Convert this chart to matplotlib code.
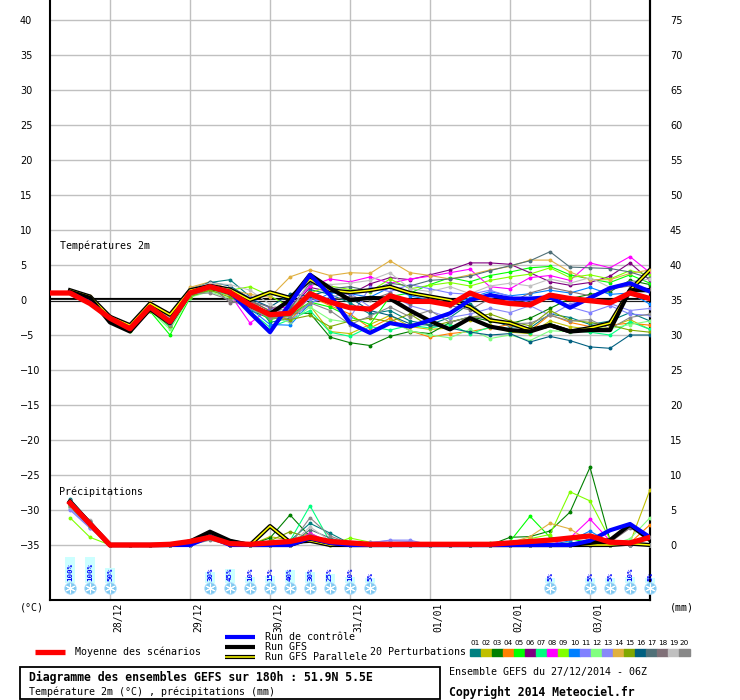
import numpy as np
import matplotlib.pyplot as plt
from matplotlib.transforms import offset_copy
from matplotlib.patches import Rectangle

nan = np.nan

# time axis: 27/12/2014 06Z + 0..180h every 6h
hours = np.arange(0, 181, 6)
day_hours = [18, 42, 66, 90, 114, 138, 162]
day_labels = ['28/12', '29/12', '30/12', '31/12', '01/01', '02/01', '03/01']

# temperature 2m (°C)
t_mean = [1.0, 1.0, -0.5, -2.6, -4.1, -1.0, -3.1, 1.0, 1.9, 1.1, -0.7, -2.1, -1.9, 0.9, -0.3, -1.1,
          -1.3, 0.6, -0.2, -0.2, -0.7, 1.0, -0.1, -0.5, -0.7, 0.7, 0.2, -0.1, -0.4, 1.0, 0.2]
t_control = [nan, 1.0, -0.4, -2.6, -4.1, -1.0, -3.2, 1.0, 1.9, 1.2, -1.8, -4.6, -0.5, 3.6, 0.7, -3.3,
             -4.7, -3.3, -3.8, -2.9, -1.9, 0.0, 0.7, 0.2, 0.2, 0.4, -1.1, 0.3, 1.7, 2.4, 1.2]
t_gfs = [nan, 1.2, 0.3, -3.2, -4.5, -1.3, -3.3, 1.0, 2.0, 1.0, -0.8, -2.0, 0.0, 3.6, 1.7, 0.0,
         0.3, 0.2, -1.5, -3.0, -4.2, -2.6, -3.8, -4.3, -4.5, -3.6, -4.5, -4.3, -4.3, 1.4, 1.4]
t_gfs_para = [nan, 1.4, 0.5, -2.4, -3.6, -0.5, -2.1, 1.4, 2.0, 1.5, 0.0, 1.1, 0.3, 2.9, 1.4, 1.1,
              1.4, 1.9, 1.0, 0.5, 0.0, -1.0, -2.9, -3.3, -4.3, -3.6, -4.5, -4.0, -3.3, 1.4, 4.3]

t01 = [nan, 1.3, 0.5, -2.4, -3.8, -0.6, -2.6, 1.6, 2.5, 2.9, 0.5, -3.2, -2.6, 1.5, 0.8, -0.4,
       -2.0, -1.5, -3.0, -3.5, -2.5, -0.5, -2.8, -3.8, -4.0, -2.0, -2.5, -3.5, -3.0, -1.8, -3.0]
t02 = [nan, 1.2, 0.2, -2.7, -4.0, -1.2, -3.5, 0.8, 1.6, 0.6, -0.8, -1.8, -2.4, -0.8, -4.5, -4.8,
       -3.5, -2.2, -3.8, -4.2, -4.0, -2.8, -3.6, -4.6, -4.8, -3.0, -3.8, -4.2, -3.9, -2.8, -4.2]
t03 = [nan, 1.1, 0.0, -2.9, -4.2, -1.4, -3.8, 0.6, 1.4, 1.2, -1.5, -2.6, -1.9, -1.9, -5.3, -6.1,
       -6.5, -5.2, -4.5, -4.8, -3.2, -2.4, -3.0, -3.4, -2.6, -1.2, 0.2, 0.8, 1.2, 2.8, 2.2]
t04 = [nan, 1.2, 0.3, -2.5, -3.9, -0.8, -2.8, 1.5, 2.4, 1.0, -0.2, -1.5, -3.0, 0.5, -0.8, -2.0,
       -4.0, -2.6, -4.4, -5.3, -4.8, -4.5, -4.0, -3.5, -4.4, -2.1, -3.2, -3.8, -3.6, -3.3, -3.6]
t05 = [nan, 1.1, -0.3, -3.0, -4.4, -1.6, -5.0, 0.3, 1.9, 1.7, -1.0, -2.8, -2.2, -0.3, -1.0, -2.4,
       -3.5, 0.5, 1.0, 2.2, 3.2, 2.6, 3.5, 4.0, 4.6, 4.8, 3.6, 3.0, 2.5, 3.6, 2.4]
t06 = [nan, 1.2, 0.4, -2.6, -4.0, -1.0, -3.2, 1.2, 2.0, 1.0, -0.3, -2.0, -1.4, 1.8, 1.2, 0.8,
       2.3, 3.2, 2.9, 3.6, 4.3, 5.3, 5.3, 5.1, 3.9, 2.6, 2.1, 2.5, 3.4, 5.3, 2.8]
t07 = [nan, 1.0, -0.4, -2.8, -4.2, -1.3, -3.9, 0.5, 1.3, 0.8, -1.6, -3.9, -2.8, -1.5, -4.6, -5.2,
       -3.8, -4.3, -3.6, -4.0, -3.5, -4.8, -3.9, -4.4, -4.7, -3.4, -4.4, -4.6, -5.0, -3.1, -4.2]
t08 = [nan, 1.3, 0.3, -2.5, -3.9, -0.9, -3.0, 1.4, 2.2, 0.8, -3.3, -1.2, -1.0, 2.0, 3.0, 2.6,
       3.3, 2.4, 3.0, 3.4, 3.9, 4.4, 1.9, 1.6, 3.2, 3.5, 2.8, 5.3, 4.6, 6.2, 3.9]
t09 = [nan, 1.2, 0.1, -2.6, -4.0, -1.1, -3.3, 1.0, 1.8, 1.4, 1.9, 0.6, -1.0, 1.0, 2.0, 1.5,
       1.2, 3.0, 1.6, 2.1, 2.5, 2.0, 2.8, 3.3, 3.7, 4.6, 3.2, 3.6, 3.0, 4.2, 3.6]
t10 = [nan, 1.1, 0.0, -2.7, -4.1, -1.2, -3.4, 0.9, 1.7, 0.9, -1.2, -3.5, -3.6, -0.5, 1.0, 0.9,
       0.4, 1.8, 0.6, 0.0, -0.7, 0.3, 1.2, 0.6, 0.9, 1.4, 1.0, 1.8, 0.8, 1.0, -0.6]
t11 = [nan, 1.2, 0.2, -2.4, -3.7, -0.5, -2.7, 1.3, 2.3, 1.6, 0.4, -1.2, -2.0, 0.2, -0.2, -2.5,
       1.8, 1.2, 2.2, 1.6, 1.0, 0.8, 1.4, 0.5, -0.4, 0.8, -1.0, -1.8, -0.8, -2.0, -2.2]
t12 = [nan, 1.0, -0.2, -2.8, -4.3, -1.5, -4.2, 0.4, 1.2, 0.2, -0.5, -2.4, -3.2, -1.0, -2.8, -3.2,
       -4.6, -3.0, -4.4, -5.0, -5.4, -4.2, -5.5, -5.0, -5.8, -4.4, -4.5, -3.9, -4.1, -3.5, -3.0]
t13 = [nan, 1.1, 0.1, -2.5, -3.9, -0.7, -2.9, 1.1, 2.1, 1.3, -0.6, -2.2, -3.0, -0.4, 0.4, 1.0,
       -1.0, 0.9, -0.8, -1.6, -2.5, -2.0, -1.2, -1.8, -0.8, -2.2, -0.6, 0.4, -0.5, -1.5, -1.2]
t14 = [nan, 1.3, 0.6, -2.3, -3.6, -0.3, -2.5, 1.8, 2.6, 1.5, 0.8, 0.4, 3.3, 4.3, 3.5, 3.9,
       3.8, 5.6, 3.9, 3.5, 3.0, 3.6, 4.3, 4.8, 5.7, 5.7, 4.0, 2.9, 2.9, 3.8, 4.3]
t15 = [nan, 1.1, -0.1, -2.9, -4.3, -1.5, -3.7, 0.5, 1.4, 0.4, -0.9, -2.5, -2.8, -2.2, -3.8, -3.0,
       -2.6, -3.1, -2.0, -3.8, -3.1, -2.5, -2.0, -3.0, -3.7, -1.5, -2.9, -3.2, -3.6, -4.3, -4.6]
t16 = [nan, 1.2, 0.3, -2.6, -4.0, -1.0, -3.1, 1.2, 2.6, 2.0, 0.2, -1.0, 0.8, 0.6, 1.4, 0.3,
       -1.5, -2.2, -3.4, -3.6, -4.0, -4.6, -5.0, -4.8, -6.0, -5.2, -5.8, -6.7, -6.9, -5.0, -5.0]
t17 = [nan, 1.2, 0.2, -2.5, -3.9, -0.8, -2.9, 1.3, 2.2, 1.3, 0.0, -1.6, -1.2, 2.4, 1.6, 1.9,
       1.3, 2.4, 2.0, 2.8, 3.0, 3.4, 4.2, 4.9, 5.6, 6.9, 4.7, 4.6, 4.5, 4.0, 3.1]
t18 = [nan, 1.3, 0.4, -2.4, -3.8, -0.7, -2.7, 1.5, 2.2, -0.4, -0.2, -1.0, -1.6, 1.2, 0.0, 0.5,
       0.0, 1.0, -0.6, 0.4, -0.8, -1.4, 0.2, -0.4, 1.0, 1.8, 1.2, 0.6, 1.6, 2.0, 1.6]
t19 = [nan, 1.2, 0.5, -2.5, -3.8, -0.6, -2.6, 1.6, 2.4, 2.2, 1.4, -0.6, -1.8, 2.8, 2.2, 2.4,
       2.8, 3.9, 1.6, 1.2, 1.9, 0.9, 2.0, 2.4, 2.0, 3.0, 2.4, 3.2, 1.8, 2.6, 3.0]
t20 = [nan, 1.1, -0.1, -2.7, -4.1, -1.2, -3.5, 0.9, 1.0, 0.0, -1.2, -2.6, -2.4, -0.4, -1.5, -3.5,
       -2.3, -1.0, -2.4, -1.5, -3.2, -2.4, -2.6, -3.4, -3.3, -2.2, -3.0, -2.8, -4.1, -2.5, -2.0]

# precipitation (mm), drawn on the right scale (0 mm at -35 on the left scale)
pr_mean = [nan, 6.0, 3.0, 0, 0, 0, 0.1, 0.5, 1.1, 0.2, 0.1, 0.3, 0.5, 1.1, 0.5, 0.3,
           0.1, 0.1, 0.1, 0.1, 0.1, 0.1, 0.1, 0.3, 0.5, 0.7, 1.0, 1.3, 0.4, 0.3, 1.1]
pr_control = [nan, 6.0, 3.0, 0, 0, 0, 0, 0, 1.2, 0, 0, 0, 0, 1.0, 0.3, 0,
              0, 0, 0, 0, 0, 0, 0, 0, 0, 0, 0, 0.6, 2.1, 3.0, 1.1]
pr_gfs = [nan, 6.2, 3.0, 0, 0, 0, 0, 0.5, 1.9, 0.6, 0, 0, 0, 0.9, 0.3, 0,
          0, 0, 0, 0, 0, 0, 0, 0, 0, 0, 0, 0.3, 0.7, 2.9, 0.7]
pr_gfs_para = [nan, 6.1, 3.1, 0, 0, 0, 0, 0.3, 1.7, 0.5, 0, 2.7, 0.4, 0.6, 0, 0,
               0, 0, 0, 0, 0, 0, 0, 0, 0, 0, 0, 0, 0, 0.2, 0]

pr01 = [nan, 6.6, 3.4, 0, 0, 0, 0, 0.4, 1.4, 0.3, 0, 0, 0.6, 3.1, 1.7, 0.2,
        0, 0, 0, 0, 0, 0, 0, 0.2, 0, 0, 0, 0.4, 0, 0.2, 0]
pr02 = [nan, 5.8, 2.9, 0, 0, 0, 0, 0.3, 1.0, 0.5, 0, 1.2, 0.7, 1.7, 0.3, 0,
        0, 0, 0, 0, 0, 0, 0, 0, 0, 0, 0, 0, 0.2, 0.3, 7.9]
pr03 = [nan, 6.2, 3.0, 0, 0, 0, 0, 0, 1.2, 0.2, 0, 1.0, 4.3, 1.2, 0.2, 0,
        0, 0, 0, 0, 0, 0, 0, 1.1, 1.2, 2.0, 4.7, 11.1, 0.7, 0.1, 0]
pr04 = [nan, 5.9, 2.8, 0, 0, 0, 0, 0, 1.0, 0, 0, 0, 0, 1.5, 0.4, 0,
        0, 0, 0, 0, 0, 0, 0, 0, 0, 0, 0, 0, 0, 0.3, 2.9]
pr05 = [nan, 5.5, 2.6, 0, 0, 0, 0, 0, 1.1, 0, 0, 0, 0, 1.4, 0, 0,
        0, 0, 0, 0, 0, 0, 0.3, 0.5, 4.1, 1.1, 0.9, 0.3, 0, 0, 0]
pr06 = [nan, 6.0, 3.1, 0, 0, 0, 0, 0, 1.3, 0, 0, 0, 0, 1.3, 0.5, 0,
        0, 0, 0, 0, 0, 0, 0, 0, 0, 0, 0, 0.2, 0, 0, 0]
pr07 = [nan, 6.1, 3.0, 0, 0, 0, 0, 0, 1.0, 0, 0, 0, 0.6, 5.6, 0.5, 0,
        0, 0, 0, 0, 0, 0, 0, 0, 0, 0, 0.3, 0.5, 0, 0, 0]
pr08 = [nan, 6.3, 3.2, 0, 0, 0, 0, 0, 1.2, 0, 0, 0, 0, 1.7, 0.4, 0,
        0, 0, 0, 0, 0, 0, 0, 0, 0, 0, 1.0, 3.7, 0.6, 0, 0]
pr09 = [nan, 3.9, 1.1, 0, 0, 0, 0, 0, 0.9, 0, 0, 0, 0, 1.0, 0, 1.0,
        0.4, 0, 0, 0, 0, 0, 0, 0.4, 0.9, 1.5, 7.6, 6.3, 0.8, 0.2, 0]
pr10 = [nan, 5.9, 3.0, 0, 0, 0, 0, 0, 1.4, 0, 0, 0, 0, 1.2, 0.3, 0,
        0, 0, 0, 0, 0, 0, 0, 0, 0, 0, 0.6, 2.0, 0.3, 0, 0]
pr11 = [nan, 5.2, 2.5, 0, 0, 0, 0, 0, 1.2, 0, 0, 0, 0, 0.8, 0, 0,
        0.4, 0.6, 0.5, 0.2, 0, 0, 0, 0, 0, 0, 0, 0, 0, 0, 0]
pr12 = [nan, 5.6, 2.8, 0, 0, 0, 0, 0, 0.8, 0, 0, 0, 0, 1.1, 0.3, 0,
        0, 0, 0, 0, 0, 0, 0, 0, 0, 0, 0, 0, 0, 0.9, 3.9]
pr13 = [nan, 5.0, 2.4, 0, 0, 0, 0, 0, 1.5, 0, 0, 0, 0, 0.9, 0.5, 0.2,
        0.3, 0.7, 0.7, 0, 0, 0, 0, 0, 0, 0, 0, 0, 0.2, 0, 0]
pr14 = [nan, 6.0, 3.1, 0, 0, 0, 0, 0, 1.0, 0, 0, 0, 0, 1.4, 0, 0,
        0, 0, 0, 0, 0, 0, 0, 0.3, 1.2, 3.1, 2.3, 0.5, 0, 0, 0]
pr15 = [nan, 5.7, 2.7, 0, 0, 0, 0, 0, 0.9, 0, 0, 0.6, 1.9, 1.0, 0.2, 0,
        0, 0, 0, 0, 0, 0, 0, 0, 0, 0, 0, 0, 0, 0.4, 0]
pr16 = [nan, 6.4, 3.3, 0, 0, 0, 0, 0, 1.6, 0, 0, 0, 0, 0.8, 0.4, 0,
        0, 0, 0, 0, 0, 0, 0, 0, 0, 0, 0, 0.5, 0, 0, 0]
pr17 = [nan, 6.5, 3.2, 0, 0, 0, 0, 0, 1.3, 0, 0, 0, 0, 2.2, 1.0, 0.2,
        0, 0, 0, 0, 0, 0, 0, 0, 0, 0, 0, 0, 0.3, 0.5, 0]
pr18 = [nan, 5.8, 2.9, 0, 0, 0, 0, 0, 1.0, 0, 0, 0, 0, 1.5, 0.4, 0,
        0, 0, 0, 0, 0, 0, 0, 0, 0, 0, 0, 0, 0.4, 2.4, 1.1]
pr19 = [nan, 5.4, 3.6, 0, 0, 0, 0, 0, 1.2, 0.4, 0, 0, 0, 2.6, 0.6, 0,
        0, 0, 0, 0, 0, 0, 0, 0, 0, 0, 0, 0.3, 0, 0, 0]
pr20 = [nan, 5.6, 3.5, 0, 0, 0, 0, 0, 0.7, 0, 0, 0, 0, 3.9, 1.3, 0.2,
        0, 0, 0, 0, 0, 0, 0, 0, 0, 0, 0, 0, 0.3, 0, 0]

pert_colors = ['#008080', '#c0c000', '#008000', '#ff8000', '#00ff00', '#800080', '#00ff80',
               '#ff00ff', '#80ff00', '#0080ff', '#8080ff', '#80ff80', '#8888f8', '#e0b040',
               '#80a800', '#006080', '#507078', '#807078', '#c0c0c0', '#888888']

# snow probability
snow_hours = [6, 12, 18, 48, 54, 60, 66, 72, 78, 84, 90, 96, 150, 162, 168, 174, 180]
snow_pct = [100, 100, 50, 30, 45, 10, 15, 40, 30, 25, 10, 5, 5, 5, 5, 10, 5]

temps = [t01, t02, t03, t04, t05, t06, t07, t08, t09, t10,
         t11, t12, t13, t14, t15, t16, t17, t18, t19, t20]
precs = [pr01, pr02, pr03, pr04, pr05, pr06, pr07, pr08, pr09, pr10,
         pr11, pr12, pr13, pr14, pr15, pr16, pr17, pr18, pr19, pr20]
p0 = -35  # 0 mm on the temperature scale

mono = 'DejaVu Sans Mono'
fig = plt.figure(figsize=(7.4, 7.0), dpi=100)
ax = fig.add_axes([50 / 740, 100 / 700, 600 / 740, 600 / 700])
ax.set_xlim(0, 180)
ax.set_ylim(-300 / 7, 300 / 7)

ax.set_yticks(range(-35, 41, 5))
ax.set_xticks(day_hours)
ax.set_xticklabels([])
ax.grid(color='#c0c0c0', lw=1)
ax.set_axisbelow(True)
ax.tick_params(length=0, labelsize=7)
ax.tick_params(axis='y', pad=21.6)
plt.setp(ax.get_yticklabels(), ha='left')
for s in ['left', 'bottom', 'right']:
    ax.spines[s].set_linewidth(1.5)
ax.spines['top'].set_visible(False)

sec = ax.secondary_yaxis('right', functions=(lambda t: t - p0, lambda m: m + p0))
sec.set_yticks(range(0, 76, 5))
sec.tick_params(length=0, pad=14.4, labelsize=7)
sec.spines['right'].set_linewidth(1.5)

# 0°C double line
ax.axhline(0, color='black', lw=3, zorder=2)
ax.axhline(0, color='#e0e0e0', lw=0.9, zorder=2)

for t, p, c in zip(temps, precs, pert_colors):
    ax.plot(hours, t, color=c, lw=0.8, marker='o', ms=1.8, zorder=3)
    ax.plot(hours, np.array(p) + p0, color=c, lw=0.8, marker='o', ms=1.8, zorder=3)

for series in [t_gfs_para, np.array(pr_gfs_para) + p0]:
    ax.plot(hours, series, color='black', lw=3, zorder=4)
    ax.plot(hours, series, color='#ffff00', lw=1.1, zorder=4)
for series in [t_gfs, np.array(pr_gfs) + p0]:
    ax.plot(hours, series, color='black', lw=3, zorder=5)
for series in [t_control, np.array(pr_control) + p0]:
    ax.plot(hours, series, color='#0000ff', lw=3, zorder=6)
for series in [t_mean, np.array(pr_mean) + p0]:
    ax.plot(hours, series, color='#ff0000', lw=3.8, zorder=7)

# snow bars and flakes
px = 1 / 7  # one pixel in temperature units
ax.bar(snow_hours, (4 + 0.22 * np.array(snow_pct)) * px, bottom=(300 - 583) * px,
       width=3, color='#ccffff', zorder=2, clip_on=False)
for h, pct in zip(snow_hours, snow_pct):
    ax.text(h, (300 - 581) * px, f'{pct}%', rotation=90, ha='center', va='bottom',
            color='#0000ff', fontsize=5.3, family=mono, fontweight='bold', zorder=3)
flake_y = np.full(len(snow_hours), (300 - 588) * px)
ax.scatter(snow_hours, flake_y, s=70, color='#80c8f0', edgecolors='#b0e0ff', lw=0.6,
           zorder=4, clip_on=False)
ax.scatter(snow_hours, flake_y, s=40, marker=(6, 2, 0), color='white', lw=0.8,
           zorder=5, clip_on=False)

# date labels under the axis
date_trans = offset_copy(ax.get_xaxis_transform(), fig=fig, x=3, y=-3, units='dots')
for h, lab in zip(day_hours, day_labels):
    ax.text(h, 0, lab, transform=date_trans, rotation=90, ha='left', va='top',
            fontsize=7, family=mono)

# overlay in pixel coordinates for titles and legend
lg = fig.add_axes([0, 0, 1, 1])
lg.set_xlim(0, 740)
lg.set_ylim(700, 0)
lg.axis('off')
lg.patch.set_alpha(0)

lg.text(60, 246, 'Températures 2m', fontsize=7.2, family=mono, va='center')
lg.text(59, 492, 'Précipitations', fontsize=7.2, family=mono, va='center')
lg.text(20, 607, '(°C)', fontsize=7.2, family=mono, va='center')
lg.text(670, 607, '(mm)', fontsize=7.2, family=mono, va='center')

lg.plot([35, 65], [652, 652], color='#ff0000', lw=3.8, solid_capstyle='butt')
lg.text(75, 652, 'Moyenne des scénarios', fontsize=7.2, family=mono, va='center')
lg.plot([225, 255], [637, 637], color='#0000ff', lw=3, solid_capstyle='butt')
lg.text(265, 637, 'Run de contrôle', fontsize=7.2, family=mono, va='center')
lg.plot([225, 255], [647, 647], color='black', lw=3, solid_capstyle='butt')
lg.text(265, 647, 'Run GFS', fontsize=7.2, family=mono, va='center')
lg.plot([225, 255], [657, 657], color='black', lw=3, solid_capstyle='butt')
lg.plot([225, 255], [657, 657], color='#ffff00', lw=1.1, solid_capstyle='butt')
lg.text(265, 657, 'Run GFS Parallele', fontsize=7.2, family=mono, va='center')

lg.text(370, 652, '20 Perturbations', fontsize=7.2, family=mono, va='center')
for k, c in enumerate(pert_colors):
    lg.add_patch(Rectangle((470 + 11 * k, 649), 10.5, 6.5, color=c))
    lg.text(475.5 + 11 * k, 643, f'{k + 1:02d}', fontsize=5.2, ha='center', va='center')

lg.add_patch(Rectangle((20, 667), 420, 32, fill=False, ec='black', lw=1.3))
lg.text(29, 677, 'Diagramme des ensembles GEFS sur 180h : 51.9N 5.5E', fontsize=8.3,
        family=mono, fontweight='bold', va='center')
lg.text(29, 692, 'Température 2m (°C) , précipitations (mm)', fontsize=7.2,
        family=mono, va='center')
lg.text(449, 672, 'Ensemble GEFS du 27/12/2014 - 06Z', fontsize=7.2, family=mono, va='center')
lg.text(449, 692, 'Copyright 2014 Meteociel.fr', fontsize=8.3, family=mono,
        fontweight='bold', va='center')

fig.savefig('out.png', dpi=100)
